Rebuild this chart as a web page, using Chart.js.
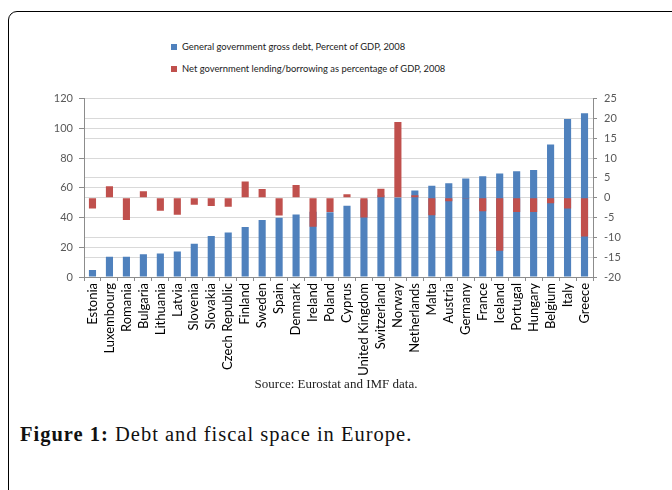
<!DOCTYPE html>
<html>
<head>
<meta charset="utf-8">
<script src="https://cdn.jsdelivr.net/npm/chart.js@4.4.2/dist/chart.umd.min.js"></script>
<style>
  body { margin: 0; background: #fff; width: 672px; height: 490px; overflow: hidden; position: relative; }
  #card { position: absolute; left: 8px; top: 11px; width: 720px; height: 520px; border: 1.5px solid #000; border-radius: 9px; }
  #chartBox { position: absolute; left: 30px; top: 85px; width: 613px; height: 292px; }
  .legend { position: absolute; left: 171px; font-family: Lato, sans-serif; font-size: 9.4px; color: #222; white-space: nowrap; }
  .legend span { display: inline-block; width: 6px; height: 6px; margin-right: 5px; }
  #source { position: absolute; left: 0; width: 672px; top: 376px; text-align: center; font-family: "Liberation Serif", serif; font-size: 13px; color: #222; }
  #caption { position: absolute; left: 20px; top: 423px; font-family: "Liberation Serif", serif; font-size: 20.5px; letter-spacing: 1px; color: #111; }
</style>
</head>
<body>
<div id="card"></div>
<div id="legend1" class="legend" style="top:41px"></div>
<div id="legend2" class="legend" style="top:63px"></div>
<div id="chartBox"><canvas id="chart"></canvas></div>
<div id="source">Source: Eurostat and IMF data.</div>
<div id="caption"><b>Figure 1:</b> Debt and fiscal space in Europe.</div>
<script>
const countries = ['Estonia', 'Luxembourg', 'Romania', 'Bulgaria', 'Lithuania', 'Latvia', 'Slovenia', 'Slovakia',
  'Czech Republic', 'Finland', 'Sweden', 'Spain', 'Denmark', 'Ireland', 'Poland', 'Cyprus', 'United Kingdom',
  'Switzerland', 'Norway', 'Netherlands', 'Malta', 'Austria', 'Germany', 'France', 'Iceland', 'Portugal',
  'Hungary', 'Belgium', 'Italy', 'Greece'];
const debtLabel = 'General government gross debt, Percent of GDP, 2008';
const lendingLabel = 'Net government lending/borrowing as percentage of GDP, 2008';
const debt = [4.7, 13.6, 13.6, 15.3, 15.8, 17.1, 22.4, 27.6, 30, 33.6, 38.4, 39.8, 42, 43.9, 43.6, 48, 52, 55,
  53.5, 58.2, 61.3, 63.1, 66.2, 67.8, 69.6, 71.1, 71.9, 89.1, 106.2, 110.2];
const lending = [-2.75, 2.9, -5.6, 1.65, -3.3, -4.3, -1.8, -2.1, -2.3, 4.1, 2.2, -4.5, 3.2, -7.3, -3.6, 0.9, -5.0,
  2.25, 19.1, 0.6, -4.4, -0.9, -0.1, -3.4, -13.4, -3.6, -3.6, -1.4, -2.75, -9.8];
const leftTicks = { min: 0, max: 120, step: 20 };
const rightTicks = { min: -20, max: 25, step: 5 };

const blue = '#4f81bd';
const red = '#c0504d';

document.getElementById('legend1').innerHTML = `<span style="background:${blue}"></span>${debtLabel}`;
document.getElementById('legend2').innerHTML = `<span style="background:${red}"></span>${lendingLabel}`;

new Chart(document.getElementById('chart'), {
  type: 'bar',
  data: {
    labels: countries,
    datasets: [
      {
        label: debtLabel,
        data: debt,
        yAxisID: 'y',
        backgroundColor: blue,
        grouped: false,
        order: 2,
        barPercentage: 0.42,
        categoryPercentage: 1
      },
      {
        label: lendingLabel,
        data: lending,
        yAxisID: 'y1',
        backgroundColor: red,
        grouped: false,
        order: 1,
        barPercentage: 0.42,
        categoryPercentage: 1
      }
    ]
  },
  options: {
    responsive: true,
    maintainAspectRatio: false,
    animation: false,
    layout: { padding: { top: 5, left: 0, right: 0, bottom: 0 } },
    plugins: {
      legend: { display: false },
      tooltip: { enabled: false }
    },
    scales: {
      x: {
        afterFit: (scale) => { scale.height = 100; },
        grid: {
          offset: true,
          drawOnChartArea: false,
          drawTicks: true,
          tickLength: 4,
          color: '#8c8c8c'
        },
        border: { color: '#8c8c8c' },
        ticks: {
          autoSkip: false,
          maxRotation: 90,
          minRotation: 90,
          padding: 2,
          color: '#000',
          font: { family: 'Lato', size: 13 }
        }
      },
      y: {
        position: 'left',
        min: leftTicks.min,
        max: leftTicks.max,
        afterFit: (scale) => { scale.width = 54; },
        grid: { color: '#d9d9d9', tickColor: '#8c8c8c', tickLength: 5 },
        border: { color: '#8c8c8c' },
        ticks: {
          stepSize: leftTicks.step,
          padding: 6,
          color: '#595959',
          font: { family: 'Lato', size: 11 }
        }
      },
      y1: {
        position: 'right',
        min: rightTicks.min,
        max: rightTicks.max,
        afterFit: (scale) => { scale.width = 50; },
        grid: { color: '#d9d9d9', tickColor: '#8c8c8c', tickLength: 4 },
        border: { color: '#8c8c8c' },
        ticks: {
          stepSize: rightTicks.step,
          padding: 7,
          color: '#595959',
          font: { family: 'Lato', size: 11 }
        }
      }
    }
  }
});
</script>
</body>
</html>
